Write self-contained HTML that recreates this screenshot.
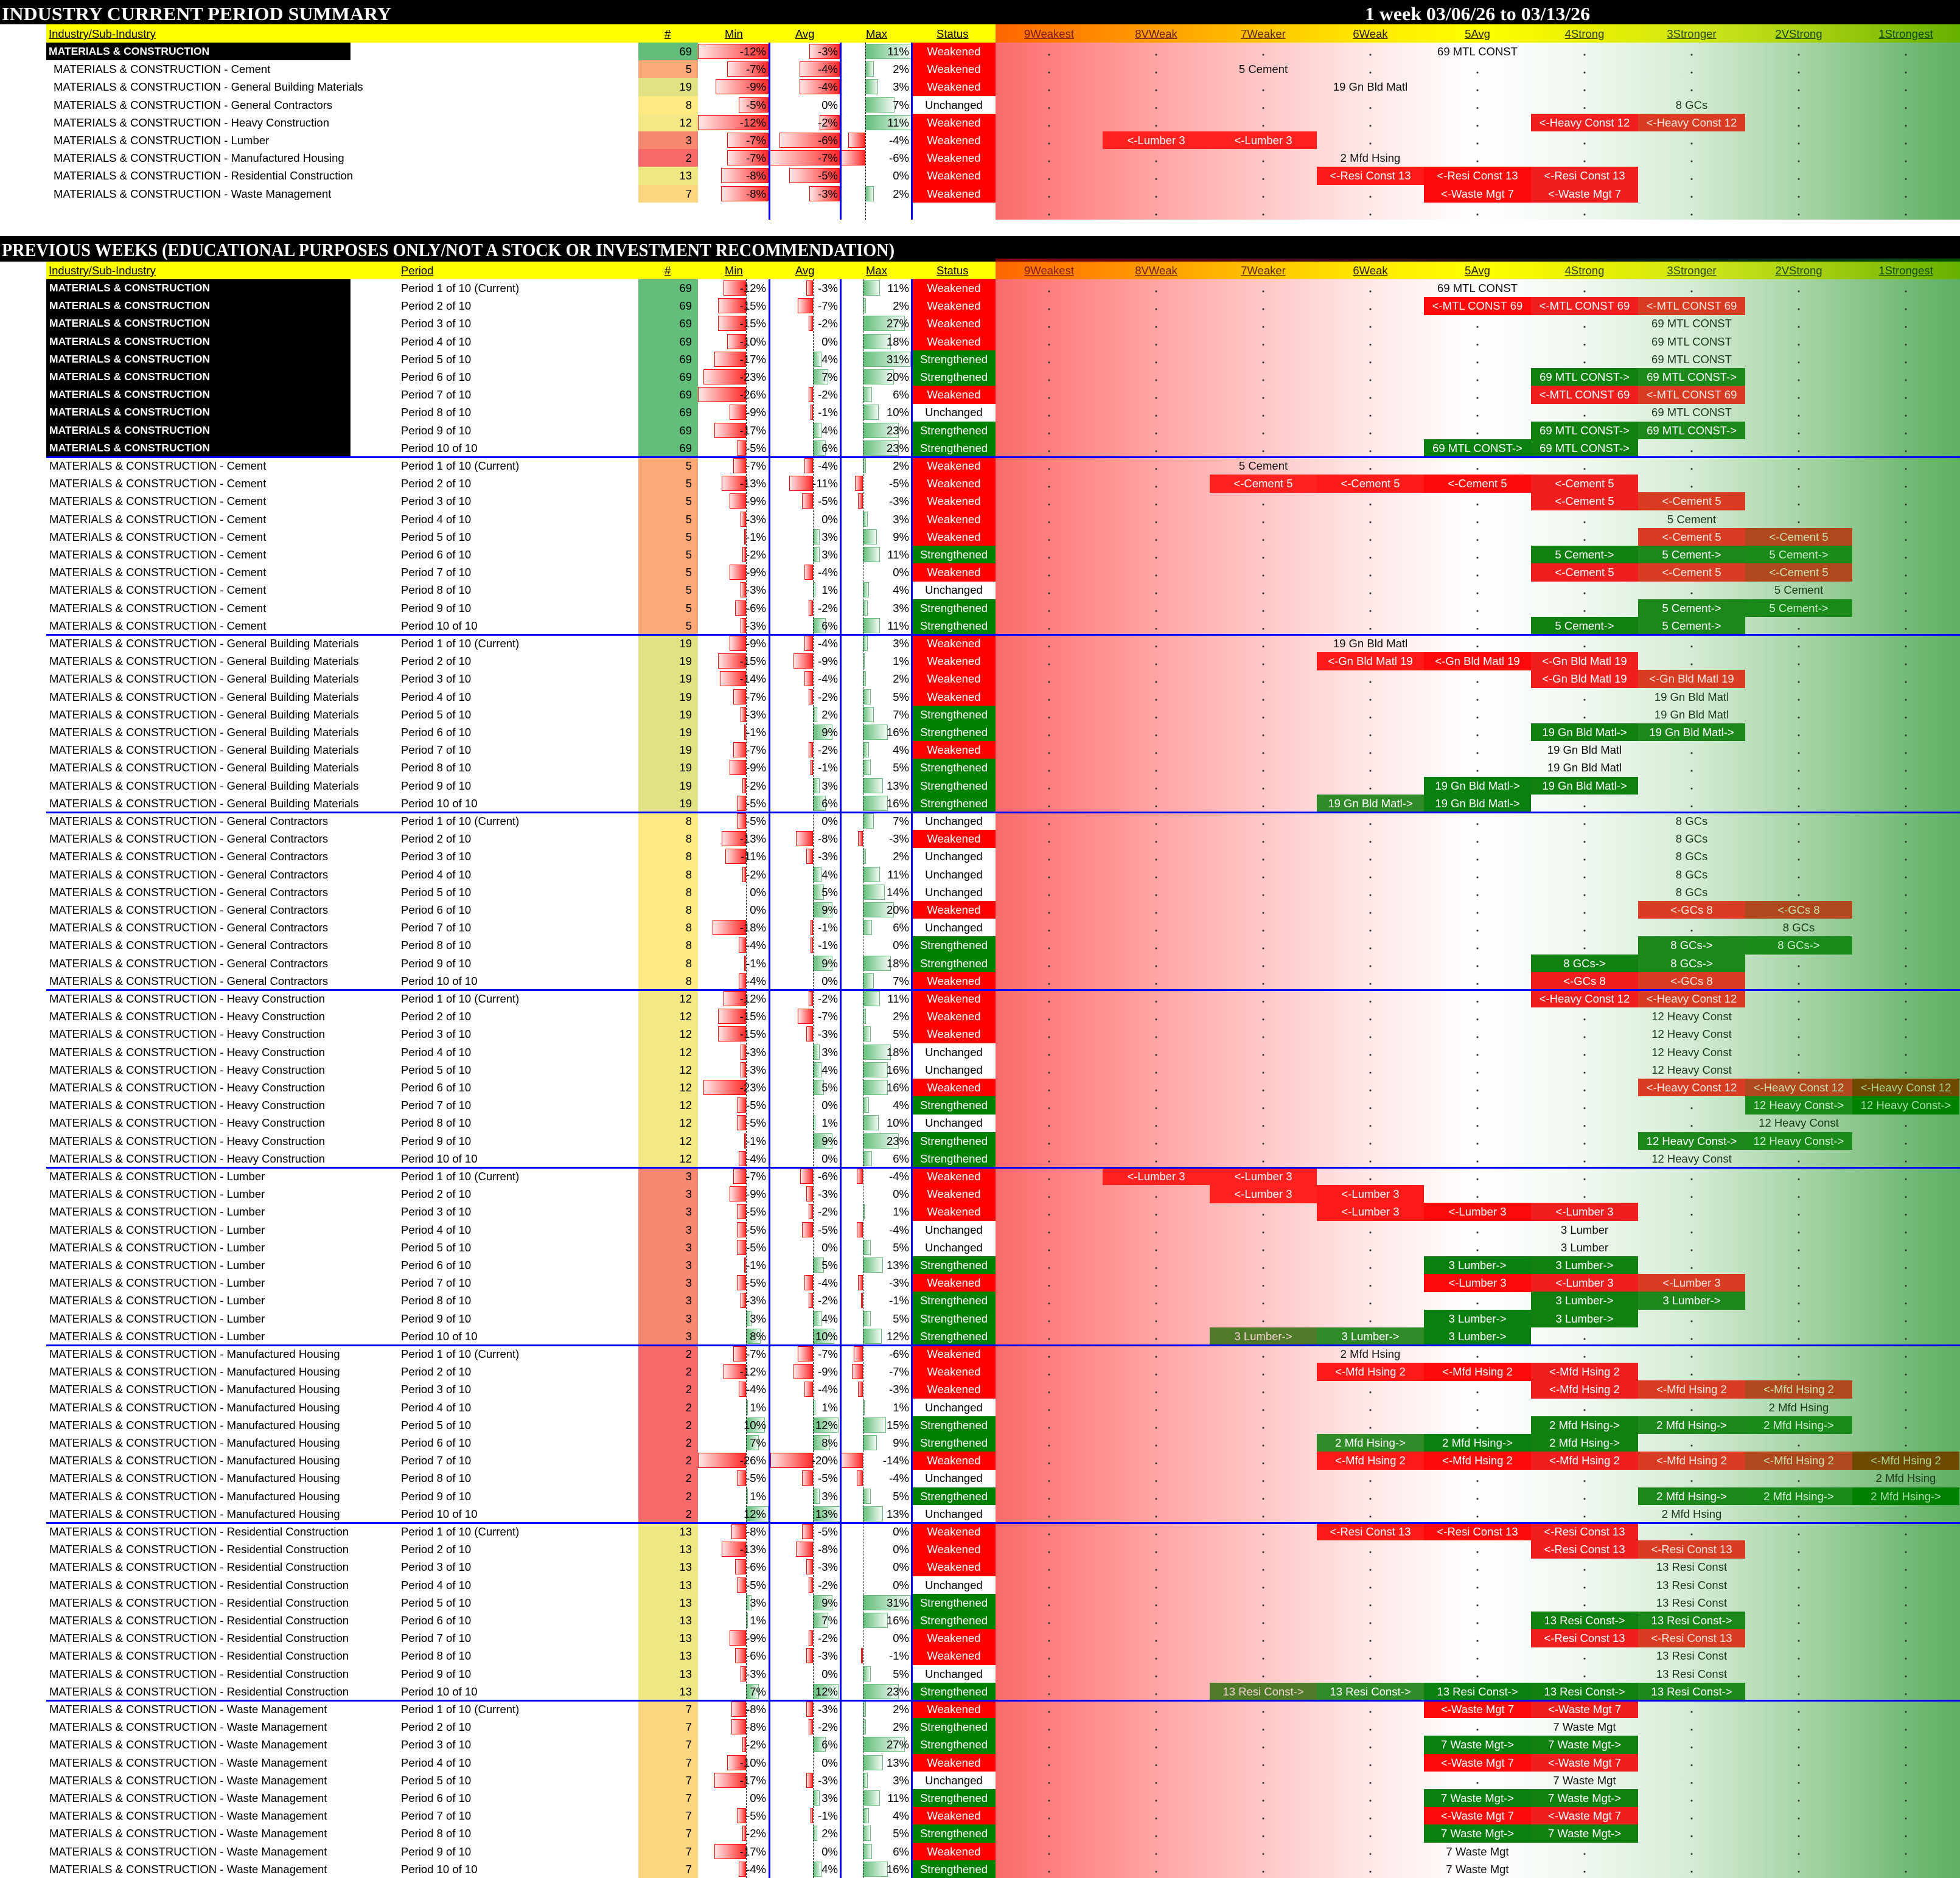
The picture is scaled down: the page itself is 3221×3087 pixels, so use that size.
<!DOCTYPE html>
<html><head><meta charset="utf-8">
<style>
*{margin:0;padding:0}
body{width:3221px;height:3087px;position:relative;overflow:hidden;background:#fff;font:18.5px/29px "Liberation Sans",Arial,sans-serif;color:#000}
b,s{position:absolute;font-weight:normal;text-decoration:none;white-space:nowrap;top:0;height:29.4px}
.r{position:absolute;left:0;width:3221px;height:29px}
.g{position:absolute;left:0;width:3221px;height:292px}
.g>.r:nth-child(2){top:29.2px}.g>.r:nth-child(3){top:58.4px}.g>.r:nth-child(4){top:87.6px}.g>.r:nth-child(5){top:116.8px}
.g>.r:nth-child(6){top:146px}.g>.r:nth-child(7){top:175.2px}.g>.r:nth-child(8){top:204.4px}.g>.r:nth-child(9){top:233.6px}.g>.r:nth-child(10){top:262.8px}
.nm{left:81px}.ns{left:88px}.pd{left:659px}
.wb{color:#fff;font-weight:bold !important;font-size:17.5px}
.n{left:1049px;width:88px;text-align:right;padding-right:10px}
.v1{left:1147px;width:112px;text-align:right}
.v2{left:1264px;width:113px;text-align:right}
.v3{left:1381px;width:113px;text-align:right}
.st{left:1499px;width:137px;text-align:center}
.W{background:#f00;color:#fff}.S{background:#008000;color:#fff}
s{top:2px;height:25px;box-sizing:border-box}
.N{border:1px solid #f00;background:linear-gradient(to right,#ffe6e6,#ff2a2a)}
.Y{border:1px solid #63be7b;background:linear-gradient(to right,#63be7b,#f4fbf6)}
.mn{right:1995px}.mp{left:1226px}.an{right:1885px}.ap{left:1336px}.xn{right:1803px}.xp{left:1418px}
.smn{right:1958px}.san{right:1841px}.sxn{right:1799px}.sxp{left:1422px}
.c69{background:#63be7b}.c5{background:#fbaa77}.c19{background:#e0e283}.c8{background:#ffeb84}.c12{background:#f3e884}.c3{background:#f98870}.c2{background:#f8696b}.c13{background:#efe784}.c7{background:#fdd680}
.h{width:176px;text-align:center}
.k0{left:1636px}.k1{left:1812px}.k2{left:1988px}.k3{left:2164px}.k4{left:2340px}.k5{left:2516px}.k6{left:2692px}.k7{left:2868px}.k8{left:3044px}
.P{color:#111}.P.k6,.P.k7,.P.k8{color:#1a3a1a}
.P::before{content:"";position:absolute;left:82px;top:16px;width:12px;height:8px;background:var(--c);z-index:-1}
.P{z-index:1}
.P.k2{--c:#ffc8c8}.P.k3{--c:#ffe8e8}.P.k4{--c:#fff}.P.k5{--c:#f0f8f0}.P.k6{--c:#d5ecd5}.P.k7{--c:#aad6aa}.P.k8{--c:#75bb78}
.R{color:#fff}
.R.k1,.R.k2{background:#ff2020}.R.k3{background:#ff1a1a}.R.k4{background:#ff0a0a}.R.k5{background:#f01e1e}.R.k6{background:#d83c22;color:#ffe8e0}.R.k7{background:#b0481e;color:#c8e0b0}.R.k8{background:#6e4a00;color:#a8d090}
.G{color:#fff}
.G.k2{background:#4e7a2a;color:#f4d0d0}.G.k3{background:#308a28}.G.k4{background:#0a8010}.G.k5{background:#108010}.G.k6{background:#1c881c}.G.k7{background:#1a8a1a;color:#d0f0d0}.G.k8{background:#008000;color:#a8dca8}
.hh{width:176px;text-align:center;text-decoration:underline !important}
.u{text-decoration:underline !important}
.heat{position:absolute;left:1636px;width:1585px;background:radial-gradient(circle at 88px 20px,#333 1.2px,transparent 1.9px) 0 0/176px 29.2px,linear-gradient(to right,#f86b6b 0%,#ff8080 6%,#ffa5a5 17%,#ffc8c8 28%,#ffe8e8 39%,#fff 50%,#f0f8f0 61%,#d5ecd5 72%,#aad6aa 83%,#75bb78 94%,#5fb064 100%)}
.hg{position:absolute;left:1636px;width:1585px;background:linear-gradient(to right,#ff6600 0%,#ffb000 22%,#ffe800 38%,#ffff00 50%,#e8f000 62%,#cce41a 74%,#a6d010 85%,#66b000 100%)}
.bl{position:absolute;background:#0000ff}
.dl{position:absolute;border-left:1px dashed #000;width:0}
</style></head><body>

<div style="position:absolute;left:0;top:0;width:3221px;height:40px;background:#000"></div>
<svg style="position:absolute;left:0;top:0" width="3221" height="40"><text x="3" y="33" textLength="640" lengthAdjust="spacingAndGlyphs" font-family="Liberation Serif, serif" font-weight="bold" font-size="31" fill="#fff">INDUSTRY CURRENT PERIOD SUMMARY</text><text x="2243" y="33" textLength="370" lengthAdjust="spacingAndGlyphs" font-family="Liberation Serif, serif" font-weight="bold" font-size="31" fill="#fff">1 week 03/06/26 to 03/13/26</text></svg>

<div style="position:absolute;left:0;top:388px;width:3221px;height:42px;background:#000"></div>
<div style="position:absolute;left:1636px;top:425px;width:1585px;height:5px;background:linear-gradient(to right,#7a0000,#3a1010 40%,#101010 55%,#0a300a 80%,#005000)"></div>
<svg style="position:absolute;left:0;top:388px" width="3221" height="42"><text x="3" y="33" textLength="1467" lengthAdjust="spacingAndGlyphs" font-family="Liberation Serif, serif" font-weight="bold" font-size="31" fill="#fff">PREVIOUS WEEKS (EDUCATIONAL PURPOSES ONLY/NOT A STOCK OR INVESTMENT RECOMMENDATION)</text></svg>

<div style="position:absolute;left:76px;top:40px;width:1560px;height:30px;background:#ff0"></div>
<div class="hg" style="top:40px;height:30px"></div>
<div style="position:absolute;left:76px;top:430px;width:1560px;height:29px;background:#ff0"></div>
<div class="hg" style="top:430px;height:29px"></div>

<div class="r" style="top:41px">
<b class="u" style="left:80px">Industry/Sub-Industry</b>
<b class="u" style="left:1092px">#</b><b class="u" style="left:1191px">Min</b><b class="u" style="left:1307px">Avg</b><b class="u" style="left:1423px">Max</b><b class="u" style="left:1539px">Status</b>
<b class="hh k0" style="color:#7a1c1c">9Weakest</b><b class="hh k1" style="color:#6a2020">8VWeak</b><b class="hh k2" style="color:#5a2a10">7Weaker</b><b class="hh k3" style="color:#2a1a10">6Weak</b><b class="hh k4" style="color:#202000">5Avg</b><b class="hh k5" style="color:#2a3a10">4Strong</b><b class="hh k6" style="color:#2a4a10">3Stronger</b><b class="hh k7" style="color:#1a4a1a">2VStrong</b><b class="hh k8" style="color:#0a4a0a">1Strongest</b>
</div>
<div class="r" style="top:430px">
<b class="u" style="left:80px">Industry/Sub-Industry</b><b class="u" style="left:659px">Period</b>
<b class="u" style="left:1092px">#</b><b class="u" style="left:1191px">Min</b><b class="u" style="left:1307px">Avg</b><b class="u" style="left:1423px">Max</b><b class="u" style="left:1539px">Status</b>
<b class="hh k0" style="color:#7a1c1c">9Weakest</b><b class="hh k1" style="color:#6a2020">8VWeak</b><b class="hh k2" style="color:#5a2a10">7Weaker</b><b class="hh k3" style="color:#2a1a10">6Weak</b><b class="hh k4" style="color:#202000">5Avg</b><b class="hh k5" style="color:#2a3a10">4Strong</b><b class="hh k6" style="color:#2a4a10">3Stronger</b><b class="hh k7" style="color:#1a4a1a">2VStrong</b><b class="hh k8" style="color:#0a4a0a">1Strongest</b>
</div>

<div class="heat" style="top:70px;height:291px"></div>
<div class="heat" style="top:459px;height:2628px"></div>

<div style="position:absolute;left:76px;top:70px;width:500px;height:29px;background:#000"></div>
<div class="r" style="top:70px"><b class="nm wb" style="left:80px">MATERIALS &amp; CONSTRUCTION</b><b class="n c69">69</b>
<s class="N smn" style="width:116px"></s><s class="N san" style="width:50px"></s><s class="Y sxp" style="width:76px"></s>
<b class="v1">-12%</b><b class="v2">-3%</b><b class="v3">11%</b><b class="st W">Weakened</b><b class="h k4 P">69 MTL CONST</b></div>
<div class="r" style="top:99.2px"><b class="ns">MATERIALS &amp; CONSTRUCTION - Cement</b><b class="n c5">5</b>
<s class="N smn" style="width:68px"></s><s class="N san" style="width:66px"></s><s class="Y sxp" style="width:14px"></s>
<b class="v1">-7%</b><b class="v2">-4%</b><b class="v3">2%</b><b class="st W">Weakened</b><b class="h k2 P">5 Cement</b></div>
<div class="r" style="top:128.4px"><b class="ns">MATERIALS &amp; CONSTRUCTION - General Building Materials</b><b class="n c19">19</b>
<s class="N smn" style="width:87px"></s><s class="N san" style="width:66px"></s><s class="Y sxp" style="width:21px"></s>
<b class="v1">-9%</b><b class="v2">-4%</b><b class="v3">3%</b><b class="st W">Weakened</b><b class="h k3 P">19 Gn Bld Matl</b></div>
<div class="r" style="top:157.6px"><b class="ns">MATERIALS &amp; CONSTRUCTION - General Contractors</b><b class="n c8">8</b>
<s class="N smn" style="width:49px"></s><s class="Y sxp" style="width:48px"></s>
<b class="v1">-5%</b><b class="v2">0%</b><b class="v3">7%</b><b class="st">Unchanged</b><b class="h k6 P">8 GCs</b></div>
<div class="r" style="top:186.8px"><b class="ns">MATERIALS &amp; CONSTRUCTION - Heavy Construction</b><b class="n c12">12</b>
<s class="N smn" style="width:116px"></s><s class="N san" style="width:33px"></s><s class="Y sxp" style="width:76px"></s>
<b class="v1">-12%</b><b class="v2">-2%</b><b class="v3">11%</b><b class="st W">Weakened</b><b class="h k5 R">&lt;-Heavy Const 12</b><b class="h k6 R">&lt;-Heavy Const 12</b></div>
<div class="r" style="top:216px"><b class="ns">MATERIALS &amp; CONSTRUCTION - Lumber</b><b class="n c3">3</b>
<s class="N smn" style="width:68px"></s><s class="N san" style="width:99px"></s><s class="N sxn" style="width:28px"></s>
<b class="v1">-7%</b><b class="v2">-6%</b><b class="v3">-4%</b><b class="st W">Weakened</b><b class="h k1 R">&lt;-Lumber 3</b><b class="h k2 R">&lt;-Lumber 3</b></div>
<div class="r" style="top:245.2px"><b class="ns">MATERIALS &amp; CONSTRUCTION - Manufactured Housing</b><b class="n c2">2</b>
<s class="N smn" style="width:68px"></s><s class="N san" style="width:115px"></s><s class="N sxn" style="width:41px"></s>
<b class="v1">-7%</b><b class="v2">-7%</b><b class="v3">-6%</b><b class="st W">Weakened</b><b class="h k3 P">2 Mfd Hsing</b></div>
<div class="r" style="top:274.4px"><b class="ns">MATERIALS &amp; CONSTRUCTION - Residential Construction</b><b class="n c13">13</b>
<s class="N smn" style="width:78px"></s><s class="N san" style="width:83px"></s>
<b class="v1">-8%</b><b class="v2">-5%</b><b class="v3">0%</b><b class="st W">Weakened</b><b class="h k3 R">&lt;-Resi Const 13</b><b class="h k4 R">&lt;-Resi Const 13</b><b class="h k5 R">&lt;-Resi Const 13</b></div>
<div class="r" style="top:303.6px"><b class="ns">MATERIALS &amp; CONSTRUCTION - Waste Management</b><b class="n c7">7</b>
<s class="N smn" style="width:78px"></s><s class="N san" style="width:50px"></s><s class="Y sxp" style="width:14px"></s>
<b class="v1">-8%</b><b class="v2">-3%</b><b class="v3">2%</b><b class="st W">Weakened</b><b class="h k4 R">&lt;-Waste Mgt 7</b><b class="h k5 R">&lt;-Waste Mgt 7</b></div>

<div class="bl" style="left:1263px;top:70px;width:3px;height:291px"></div>
<div class="bl" style="left:1380px;top:70px;width:3px;height:291px"></div>
<div class="bl" style="left:1497px;top:70px;width:3px;height:291px"></div>
<div class="dl" style="left:1422px;top:70px;height:291px"></div>

<div style="position:absolute;left:76px;top:459px;width:500px;height:292px;background:#000"></div>

<div class="g" style="top:459px">
<div class="r"><b class="nm wb">MATERIALS &amp; CONSTRUCTION</b><b class="pd">Period 1 of 10 (Current)</b><b class="n c69">69</b><s class="N mn" style="width:37px"></s><s class="N an" style="width:11px"></s><s class="Y xp" style="width:28px"></s><b class="v1">-12%</b><b class="v2">-3%</b><b class="v3">11%</b><b class="st W">Weakened</b><b class="h k4 P">69 MTL CONST</b></div>
<div class="r"><b class="nm wb">MATERIALS &amp; CONSTRUCTION</b><b class="pd">Period 2 of 10</b><b class="n c69">69</b><s class="N mn" style="width:46px"></s><s class="N an" style="width:25px"></s><s class="Y xp" style="width:5px"></s><b class="v1">-15%</b><b class="v2">-7%</b><b class="v3">2%</b><b class="st W">Weakened</b><b class="h k4 R">&lt;-MTL CONST 69</b><b class="h k5 R">&lt;-MTL CONST 69</b><b class="h k6 R">&lt;-MTL CONST 69</b></div>
<div class="r"><b class="nm wb">MATERIALS &amp; CONSTRUCTION</b><b class="pd">Period 3 of 10</b><b class="n c69">69</b><s class="N mn" style="width:46px"></s><s class="N an" style="width:7px"></s><s class="Y xp" style="width:69px"></s><b class="v1">-15%</b><b class="v2">-2%</b><b class="v3">27%</b><b class="st W">Weakened</b><b class="h k6 P">69 MTL CONST</b></div>
<div class="r"><b class="nm wb">MATERIALS &amp; CONSTRUCTION</b><b class="pd">Period 4 of 10</b><b class="n c69">69</b><s class="N mn" style="width:31px"></s><s class="Y xp" style="width:46px"></s><b class="v1">-10%</b><b class="v2">0%</b><b class="v3">18%</b><b class="st W">Weakened</b><b class="h k6 P">69 MTL CONST</b></div>
<div class="r"><b class="nm wb">MATERIALS &amp; CONSTRUCTION</b><b class="pd">Period 5 of 10</b><b class="n c69">69</b><s class="N mn" style="width:52px"></s><s class="Y ap" style="width:14px"></s><s class="Y xp" style="width:79px"></s><b class="v1">-17%</b><b class="v2">4%</b><b class="v3">31%</b><b class="st S">Strengthened</b><b class="h k6 P">69 MTL CONST</b></div>
<div class="r"><b class="nm wb">MATERIALS &amp; CONSTRUCTION</b><b class="pd">Period 6 of 10</b><b class="n c69">69</b><s class="N mn" style="width:70px"></s><s class="Y ap" style="width:25px"></s><s class="Y xp" style="width:51px"></s><b class="v1">-23%</b><b class="v2">7%</b><b class="v3">20%</b><b class="st S">Strengthened</b><b class="h k5 G">69 MTL CONST-&gt;</b><b class="h k6 G">69 MTL CONST-&gt;</b></div>
<div class="r"><b class="nm wb">MATERIALS &amp; CONSTRUCTION</b><b class="pd">Period 7 of 10</b><b class="n c69">69</b><s class="N mn" style="width:79px"></s><s class="N an" style="width:7px"></s><s class="Y xp" style="width:15px"></s><b class="v1">-26%</b><b class="v2">-2%</b><b class="v3">6%</b><b class="st W">Weakened</b><b class="h k5 R">&lt;-MTL CONST 69</b><b class="h k6 R">&lt;-MTL CONST 69</b></div>
<div class="r"><b class="nm wb">MATERIALS &amp; CONSTRUCTION</b><b class="pd">Period 8 of 10</b><b class="n c69">69</b><s class="N mn" style="width:27px"></s><s class="N an" style="width:4px"></s><s class="Y xp" style="width:26px"></s><b class="v1">-9%</b><b class="v2">-1%</b><b class="v3">10%</b><b class="st">Unchanged</b><b class="h k6 P">69 MTL CONST</b></div>
<div class="r"><b class="nm wb">MATERIALS &amp; CONSTRUCTION</b><b class="pd">Period 9 of 10</b><b class="n c69">69</b><s class="N mn" style="width:52px"></s><s class="Y ap" style="width:14px"></s><s class="Y xp" style="width:59px"></s><b class="v1">-17%</b><b class="v2">4%</b><b class="v3">23%</b><b class="st S">Strengthened</b><b class="h k5 G">69 MTL CONST-&gt;</b><b class="h k6 G">69 MTL CONST-&gt;</b></div>
<div class="r"><b class="nm wb">MATERIALS &amp; CONSTRUCTION</b><b class="pd">Period 10 of 10</b><b class="n c69">69</b><s class="N mn" style="width:15px"></s><s class="Y ap" style="width:21px"></s><s class="Y xp" style="width:59px"></s><b class="v1">-5%</b><b class="v2">6%</b><b class="v3">23%</b><b class="st S">Strengthened</b><b class="h k4 G">69 MTL CONST-&gt;</b><b class="h k5 G">69 MTL CONST-&gt;</b></div>
</div>

<div class="g" style="top:751px">
<div class="r"><b class="nm">MATERIALS &amp; CONSTRUCTION - Cement</b><b class="pd">Period 1 of 10 (Current)</b><b class="n c5">5</b><s class="N mn" style="width:21px"></s><s class="N an" style="width:14px"></s><s class="Y xp" style="width:5px"></s><b class="v1">-7%</b><b class="v2">-4%</b><b class="v3">2%</b><b class="st W">Weakened</b><b class="h k2 P">5 Cement</b></div>
<div class="r"><b class="nm">MATERIALS &amp; CONSTRUCTION - Cement</b><b class="pd">Period 2 of 10</b><b class="n c5">5</b><s class="N mn" style="width:40px"></s><s class="N an" style="width:39px"></s><s class="N xn" style="width:13px"></s><b class="v1">-13%</b><b class="v2">-11%</b><b class="v3">-5%</b><b class="st W">Weakened</b><b class="h k2 R">&lt;-Cement 5</b><b class="h k3 R">&lt;-Cement 5</b><b class="h k4 R">&lt;-Cement 5</b><b class="h k5 R">&lt;-Cement 5</b></div>
<div class="r"><b class="nm">MATERIALS &amp; CONSTRUCTION - Cement</b><b class="pd">Period 3 of 10</b><b class="n c5">5</b><s class="N mn" style="width:27px"></s><s class="N an" style="width:18px"></s><s class="N xn" style="width:8px"></s><b class="v1">-9%</b><b class="v2">-5%</b><b class="v3">-3%</b><b class="st W">Weakened</b><b class="h k5 R">&lt;-Cement 5</b><b class="h k6 R">&lt;-Cement 5</b></div>
<div class="r"><b class="nm">MATERIALS &amp; CONSTRUCTION - Cement</b><b class="pd">Period 4 of 10</b><b class="n c5">5</b><s class="N mn" style="width:9px"></s><s class="Y xp" style="width:8px"></s><b class="v1">-3%</b><b class="v2">0%</b><b class="v3">3%</b><b class="st W">Weakened</b><b class="h k6 P">5 Cement</b></div>
<div class="r"><b class="nm">MATERIALS &amp; CONSTRUCTION - Cement</b><b class="pd">Period 5 of 10</b><b class="n c5">5</b><s class="N mn" style="width:3px"></s><s class="Y ap" style="width:11px"></s><s class="Y xp" style="width:23px"></s><b class="v1">-1%</b><b class="v2">3%</b><b class="v3">9%</b><b class="st W">Weakened</b><b class="h k6 R">&lt;-Cement 5</b><b class="h k7 R">&lt;-Cement 5</b></div>
<div class="r"><b class="nm">MATERIALS &amp; CONSTRUCTION - Cement</b><b class="pd">Period 6 of 10</b><b class="n c5">5</b><s class="N mn" style="width:6px"></s><s class="Y ap" style="width:11px"></s><s class="Y xp" style="width:28px"></s><b class="v1">-2%</b><b class="v2">3%</b><b class="v3">11%</b><b class="st S">Strengthened</b><b class="h k5 G">5 Cement-&gt;</b><b class="h k6 G">5 Cement-&gt;</b><b class="h k7 G">5 Cement-&gt;</b></div>
<div class="r"><b class="nm">MATERIALS &amp; CONSTRUCTION - Cement</b><b class="pd">Period 7 of 10</b><b class="n c5">5</b><s class="N mn" style="width:27px"></s><s class="N an" style="width:14px"></s><b class="v1">-9%</b><b class="v2">-4%</b><b class="v3">0%</b><b class="st W">Weakened</b><b class="h k5 R">&lt;-Cement 5</b><b class="h k6 R">&lt;-Cement 5</b><b class="h k7 R">&lt;-Cement 5</b></div>
<div class="r"><b class="nm">MATERIALS &amp; CONSTRUCTION - Cement</b><b class="pd">Period 8 of 10</b><b class="n c5">5</b><s class="N mn" style="width:9px"></s><s class="Y ap" style="width:4px"></s><s class="Y xp" style="width:10px"></s><b class="v1">-3%</b><b class="v2">1%</b><b class="v3">4%</b><b class="st">Unchanged</b><b class="h k7 P">5 Cement</b></div>
<div class="r"><b class="nm">MATERIALS &amp; CONSTRUCTION - Cement</b><b class="pd">Period 9 of 10</b><b class="n c5">5</b><s class="N mn" style="width:18px"></s><s class="N an" style="width:7px"></s><s class="Y xp" style="width:8px"></s><b class="v1">-6%</b><b class="v2">-2%</b><b class="v3">3%</b><b class="st S">Strengthened</b><b class="h k6 G">5 Cement-&gt;</b><b class="h k7 G">5 Cement-&gt;</b></div>
<div class="r"><b class="nm">MATERIALS &amp; CONSTRUCTION - Cement</b><b class="pd">Period 10 of 10</b><b class="n c5">5</b><s class="N mn" style="width:9px"></s><s class="Y ap" style="width:21px"></s><s class="Y xp" style="width:28px"></s><b class="v1">-3%</b><b class="v2">6%</b><b class="v3">11%</b><b class="st S">Strengthened</b><b class="h k5 G">5 Cement-&gt;</b><b class="h k6 G">5 Cement-&gt;</b></div>
</div>

<div class="g" style="top:1043px">
<div class="r"><b class="nm">MATERIALS &amp; CONSTRUCTION - General Building Materials</b><b class="pd">Period 1 of 10 (Current)</b><b class="n c19">19</b><s class="N mn" style="width:27px"></s><s class="N an" style="width:14px"></s><s class="Y xp" style="width:8px"></s><b class="v1">-9%</b><b class="v2">-4%</b><b class="v3">3%</b><b class="st W">Weakened</b><b class="h k3 P">19 Gn Bld Matl</b></div>
<div class="r"><b class="nm">MATERIALS &amp; CONSTRUCTION - General Building Materials</b><b class="pd">Period 2 of 10</b><b class="n c19">19</b><s class="N mn" style="width:46px"></s><s class="N an" style="width:32px"></s><s class="Y xp" style="width:3px"></s><b class="v1">-15%</b><b class="v2">-9%</b><b class="v3">1%</b><b class="st W">Weakened</b><b class="h k3 R">&lt;-Gn Bld Matl 19</b><b class="h k4 R">&lt;-Gn Bld Matl 19</b><b class="h k5 R">&lt;-Gn Bld Matl 19</b></div>
<div class="r"><b class="nm">MATERIALS &amp; CONSTRUCTION - General Building Materials</b><b class="pd">Period 3 of 10</b><b class="n c19">19</b><s class="N mn" style="width:43px"></s><s class="N an" style="width:14px"></s><s class="Y xp" style="width:5px"></s><b class="v1">-14%</b><b class="v2">-4%</b><b class="v3">2%</b><b class="st W">Weakened</b><b class="h k5 R">&lt;-Gn Bld Matl 19</b><b class="h k6 R">&lt;-Gn Bld Matl 19</b></div>
<div class="r"><b class="nm">MATERIALS &amp; CONSTRUCTION - General Building Materials</b><b class="pd">Period 4 of 10</b><b class="n c19">19</b><s class="N mn" style="width:21px"></s><s class="N an" style="width:7px"></s><s class="Y xp" style="width:13px"></s><b class="v1">-7%</b><b class="v2">-2%</b><b class="v3">5%</b><b class="st W">Weakened</b><b class="h k6 P">19 Gn Bld Matl</b></div>
<div class="r"><b class="nm">MATERIALS &amp; CONSTRUCTION - General Building Materials</b><b class="pd">Period 5 of 10</b><b class="n c19">19</b><s class="N mn" style="width:9px"></s><s class="Y ap" style="width:7px"></s><s class="Y xp" style="width:18px"></s><b class="v1">-3%</b><b class="v2">2%</b><b class="v3">7%</b><b class="st S">Strengthened</b><b class="h k6 P">19 Gn Bld Matl</b></div>
<div class="r"><b class="nm">MATERIALS &amp; CONSTRUCTION - General Building Materials</b><b class="pd">Period 6 of 10</b><b class="n c19">19</b><s class="N mn" style="width:3px"></s><s class="Y ap" style="width:32px"></s><s class="Y xp" style="width:41px"></s><b class="v1">-1%</b><b class="v2">9%</b><b class="v3">16%</b><b class="st S">Strengthened</b><b class="h k5 G">19 Gn Bld Matl-&gt;</b><b class="h k6 G">19 Gn Bld Matl-&gt;</b></div>
<div class="r"><b class="nm">MATERIALS &amp; CONSTRUCTION - General Building Materials</b><b class="pd">Period 7 of 10</b><b class="n c19">19</b><s class="N mn" style="width:21px"></s><s class="N an" style="width:7px"></s><s class="Y xp" style="width:10px"></s><b class="v1">-7%</b><b class="v2">-2%</b><b class="v3">4%</b><b class="st W">Weakened</b><b class="h k5 P">19 Gn Bld Matl</b></div>
<div class="r"><b class="nm">MATERIALS &amp; CONSTRUCTION - General Building Materials</b><b class="pd">Period 8 of 10</b><b class="n c19">19</b><s class="N mn" style="width:27px"></s><s class="N an" style="width:4px"></s><s class="Y xp" style="width:13px"></s><b class="v1">-9%</b><b class="v2">-1%</b><b class="v3">5%</b><b class="st S">Strengthened</b><b class="h k5 P">19 Gn Bld Matl</b></div>
<div class="r"><b class="nm">MATERIALS &amp; CONSTRUCTION - General Building Materials</b><b class="pd">Period 9 of 10</b><b class="n c19">19</b><s class="N mn" style="width:6px"></s><s class="Y ap" style="width:11px"></s><s class="Y xp" style="width:33px"></s><b class="v1">-2%</b><b class="v2">3%</b><b class="v3">13%</b><b class="st S">Strengthened</b><b class="h k4 G">19 Gn Bld Matl-&gt;</b><b class="h k5 G">19 Gn Bld Matl-&gt;</b></div>
<div class="r"><b class="nm">MATERIALS &amp; CONSTRUCTION - General Building Materials</b><b class="pd">Period 10 of 10</b><b class="n c19">19</b><s class="N mn" style="width:15px"></s><s class="Y ap" style="width:21px"></s><s class="Y xp" style="width:41px"></s><b class="v1">-5%</b><b class="v2">6%</b><b class="v3">16%</b><b class="st S">Strengthened</b><b class="h k3 G">19 Gn Bld Matl-&gt;</b><b class="h k4 G">19 Gn Bld Matl-&gt;</b></div>
</div>

<div class="g" style="top:1335px">
<div class="r"><b class="nm">MATERIALS &amp; CONSTRUCTION - General Contractors</b><b class="pd">Period 1 of 10 (Current)</b><b class="n c8">8</b><s class="N mn" style="width:15px"></s><s class="Y xp" style="width:18px"></s><b class="v1">-5%</b><b class="v2">0%</b><b class="v3">7%</b><b class="st">Unchanged</b><b class="h k6 P">8 GCs</b></div>
<div class="r"><b class="nm">MATERIALS &amp; CONSTRUCTION - General Contractors</b><b class="pd">Period 2 of 10</b><b class="n c8">8</b><s class="N mn" style="width:40px"></s><s class="N an" style="width:28px"></s><s class="N xn" style="width:8px"></s><b class="v1">-13%</b><b class="v2">-8%</b><b class="v3">-3%</b><b class="st W">Weakened</b><b class="h k6 P">8 GCs</b></div>
<div class="r"><b class="nm">MATERIALS &amp; CONSTRUCTION - General Contractors</b><b class="pd">Period 3 of 10</b><b class="n c8">8</b><s class="N mn" style="width:34px"></s><s class="N an" style="width:11px"></s><s class="Y xp" style="width:5px"></s><b class="v1">-11%</b><b class="v2">-3%</b><b class="v3">2%</b><b class="st">Unchanged</b><b class="h k6 P">8 GCs</b></div>
<div class="r"><b class="nm">MATERIALS &amp; CONSTRUCTION - General Contractors</b><b class="pd">Period 4 of 10</b><b class="n c8">8</b><s class="N mn" style="width:6px"></s><s class="Y ap" style="width:14px"></s><s class="Y xp" style="width:28px"></s><b class="v1">-2%</b><b class="v2">4%</b><b class="v3">11%</b><b class="st">Unchanged</b><b class="h k6 P">8 GCs</b></div>
<div class="r"><b class="nm">MATERIALS &amp; CONSTRUCTION - General Contractors</b><b class="pd">Period 5 of 10</b><b class="n c8">8</b><s class="Y ap" style="width:18px"></s><s class="Y xp" style="width:36px"></s><b class="v1">0%</b><b class="v2">5%</b><b class="v3">14%</b><b class="st">Unchanged</b><b class="h k6 P">8 GCs</b></div>
<div class="r"><b class="nm">MATERIALS &amp; CONSTRUCTION - General Contractors</b><b class="pd">Period 6 of 10</b><b class="n c8">8</b><s class="Y ap" style="width:32px"></s><s class="Y xp" style="width:51px"></s><b class="v1">0%</b><b class="v2">9%</b><b class="v3">20%</b><b class="st W">Weakened</b><b class="h k6 R">&lt;-GCs 8</b><b class="h k7 R">&lt;-GCs 8</b></div>
<div class="r"><b class="nm">MATERIALS &amp; CONSTRUCTION - General Contractors</b><b class="pd">Period 7 of 10</b><b class="n c8">8</b><s class="N mn" style="width:55px"></s><s class="N an" style="width:4px"></s><s class="Y xp" style="width:15px"></s><b class="v1">-18%</b><b class="v2">-1%</b><b class="v3">6%</b><b class="st">Unchanged</b><b class="h k7 P">8 GCs</b></div>
<div class="r"><b class="nm">MATERIALS &amp; CONSTRUCTION - General Contractors</b><b class="pd">Period 8 of 10</b><b class="n c8">8</b><s class="N mn" style="width:12px"></s><s class="N an" style="width:4px"></s><b class="v1">-4%</b><b class="v2">-1%</b><b class="v3">0%</b><b class="st S">Strengthened</b><b class="h k6 G">8 GCs-&gt;</b><b class="h k7 G">8 GCs-&gt;</b></div>
<div class="r"><b class="nm">MATERIALS &amp; CONSTRUCTION - General Contractors</b><b class="pd">Period 9 of 10</b><b class="n c8">8</b><s class="N mn" style="width:3px"></s><s class="Y ap" style="width:32px"></s><s class="Y xp" style="width:46px"></s><b class="v1">-1%</b><b class="v2">9%</b><b class="v3">18%</b><b class="st S">Strengthened</b><b class="h k5 G">8 GCs-&gt;</b><b class="h k6 G">8 GCs-&gt;</b></div>
<div class="r"><b class="nm">MATERIALS &amp; CONSTRUCTION - General Contractors</b><b class="pd">Period 10 of 10</b><b class="n c8">8</b><s class="N mn" style="width:12px"></s><s class="Y xp" style="width:18px"></s><b class="v1">-4%</b><b class="v2">0%</b><b class="v3">7%</b><b class="st W">Weakened</b><b class="h k5 R">&lt;-GCs 8</b><b class="h k6 R">&lt;-GCs 8</b></div>
</div>

<div class="g" style="top:1627px">
<div class="r"><b class="nm">MATERIALS &amp; CONSTRUCTION - Heavy Construction</b><b class="pd">Period 1 of 10 (Current)</b><b class="n c12">12</b><s class="N mn" style="width:37px"></s><s class="N an" style="width:7px"></s><s class="Y xp" style="width:28px"></s><b class="v1">-12%</b><b class="v2">-2%</b><b class="v3">11%</b><b class="st W">Weakened</b><b class="h k5 R">&lt;-Heavy Const 12</b><b class="h k6 R">&lt;-Heavy Const 12</b></div>
<div class="r"><b class="nm">MATERIALS &amp; CONSTRUCTION - Heavy Construction</b><b class="pd">Period 2 of 10</b><b class="n c12">12</b><s class="N mn" style="width:46px"></s><s class="N an" style="width:25px"></s><s class="Y xp" style="width:5px"></s><b class="v1">-15%</b><b class="v2">-7%</b><b class="v3">2%</b><b class="st W">Weakened</b><b class="h k6 P">12 Heavy Const</b></div>
<div class="r"><b class="nm">MATERIALS &amp; CONSTRUCTION - Heavy Construction</b><b class="pd">Period 3 of 10</b><b class="n c12">12</b><s class="N mn" style="width:46px"></s><s class="N an" style="width:11px"></s><s class="Y xp" style="width:13px"></s><b class="v1">-15%</b><b class="v2">-3%</b><b class="v3">5%</b><b class="st W">Weakened</b><b class="h k6 P">12 Heavy Const</b></div>
<div class="r"><b class="nm">MATERIALS &amp; CONSTRUCTION - Heavy Construction</b><b class="pd">Period 4 of 10</b><b class="n c12">12</b><s class="N mn" style="width:9px"></s><s class="Y ap" style="width:11px"></s><s class="Y xp" style="width:46px"></s><b class="v1">-3%</b><b class="v2">3%</b><b class="v3">18%</b><b class="st">Unchanged</b><b class="h k6 P">12 Heavy Const</b></div>
<div class="r"><b class="nm">MATERIALS &amp; CONSTRUCTION - Heavy Construction</b><b class="pd">Period 5 of 10</b><b class="n c12">12</b><s class="N mn" style="width:9px"></s><s class="Y ap" style="width:14px"></s><s class="Y xp" style="width:41px"></s><b class="v1">-3%</b><b class="v2">4%</b><b class="v3">16%</b><b class="st">Unchanged</b><b class="h k6 P">12 Heavy Const</b></div>
<div class="r"><b class="nm">MATERIALS &amp; CONSTRUCTION - Heavy Construction</b><b class="pd">Period 6 of 10</b><b class="n c12">12</b><s class="N mn" style="width:70px"></s><s class="Y ap" style="width:18px"></s><s class="Y xp" style="width:41px"></s><b class="v1">-23%</b><b class="v2">5%</b><b class="v3">16%</b><b class="st W">Weakened</b><b class="h k6 R">&lt;-Heavy Const 12</b><b class="h k7 R">&lt;-Heavy Const 12</b><b class="h k8 R">&lt;-Heavy Const 12</b></div>
<div class="r"><b class="nm">MATERIALS &amp; CONSTRUCTION - Heavy Construction</b><b class="pd">Period 7 of 10</b><b class="n c12">12</b><s class="N mn" style="width:15px"></s><s class="Y xp" style="width:10px"></s><b class="v1">-5%</b><b class="v2">0%</b><b class="v3">4%</b><b class="st S">Strengthened</b><b class="h k7 G">12 Heavy Const-&gt;</b><b class="h k8 G">12 Heavy Const-&gt;</b></div>
<div class="r"><b class="nm">MATERIALS &amp; CONSTRUCTION - Heavy Construction</b><b class="pd">Period 8 of 10</b><b class="n c12">12</b><s class="N mn" style="width:15px"></s><s class="Y ap" style="width:4px"></s><s class="Y xp" style="width:26px"></s><b class="v1">-5%</b><b class="v2">1%</b><b class="v3">10%</b><b class="st">Unchanged</b><b class="h k7 P">12 Heavy Const</b></div>
<div class="r"><b class="nm">MATERIALS &amp; CONSTRUCTION - Heavy Construction</b><b class="pd">Period 9 of 10</b><b class="n c12">12</b><s class="N mn" style="width:3px"></s><s class="Y ap" style="width:32px"></s><s class="Y xp" style="width:59px"></s><b class="v1">-1%</b><b class="v2">9%</b><b class="v3">23%</b><b class="st S">Strengthened</b><b class="h k6 G">12 Heavy Const-&gt;</b><b class="h k7 G">12 Heavy Const-&gt;</b></div>
<div class="r"><b class="nm">MATERIALS &amp; CONSTRUCTION - Heavy Construction</b><b class="pd">Period 10 of 10</b><b class="n c12">12</b><s class="N mn" style="width:12px"></s><s class="Y xp" style="width:15px"></s><b class="v1">-4%</b><b class="v2">0%</b><b class="v3">6%</b><b class="st S">Strengthened</b><b class="h k6 P">12 Heavy Const</b></div>
</div>

<div class="g" style="top:1919px">
<div class="r"><b class="nm">MATERIALS &amp; CONSTRUCTION - Lumber</b><b class="pd">Period 1 of 10 (Current)</b><b class="n c3">3</b><s class="N mn" style="width:21px"></s><s class="N an" style="width:21px"></s><s class="N xn" style="width:10px"></s><b class="v1">-7%</b><b class="v2">-6%</b><b class="v3">-4%</b><b class="st W">Weakened</b><b class="h k1 R">&lt;-Lumber 3</b><b class="h k2 R">&lt;-Lumber 3</b></div>
<div class="r"><b class="nm">MATERIALS &amp; CONSTRUCTION - Lumber</b><b class="pd">Period 2 of 10</b><b class="n c3">3</b><s class="N mn" style="width:27px"></s><s class="N an" style="width:11px"></s><b class="v1">-9%</b><b class="v2">-3%</b><b class="v3">0%</b><b class="st W">Weakened</b><b class="h k2 R">&lt;-Lumber 3</b><b class="h k3 R">&lt;-Lumber 3</b></div>
<div class="r"><b class="nm">MATERIALS &amp; CONSTRUCTION - Lumber</b><b class="pd">Period 3 of 10</b><b class="n c3">3</b><s class="N mn" style="width:15px"></s><s class="N an" style="width:7px"></s><s class="Y xp" style="width:3px"></s><b class="v1">-5%</b><b class="v2">-2%</b><b class="v3">1%</b><b class="st W">Weakened</b><b class="h k3 R">&lt;-Lumber 3</b><b class="h k4 R">&lt;-Lumber 3</b><b class="h k5 R">&lt;-Lumber 3</b></div>
<div class="r"><b class="nm">MATERIALS &amp; CONSTRUCTION - Lumber</b><b class="pd">Period 4 of 10</b><b class="n c3">3</b><s class="N mn" style="width:15px"></s><s class="N an" style="width:18px"></s><s class="N xn" style="width:10px"></s><b class="v1">-5%</b><b class="v2">-5%</b><b class="v3">-4%</b><b class="st">Unchanged</b><b class="h k5 P">3 Lumber</b></div>
<div class="r"><b class="nm">MATERIALS &amp; CONSTRUCTION - Lumber</b><b class="pd">Period 5 of 10</b><b class="n c3">3</b><s class="N mn" style="width:15px"></s><s class="Y xp" style="width:13px"></s><b class="v1">-5%</b><b class="v2">0%</b><b class="v3">5%</b><b class="st">Unchanged</b><b class="h k5 P">3 Lumber</b></div>
<div class="r"><b class="nm">MATERIALS &amp; CONSTRUCTION - Lumber</b><b class="pd">Period 6 of 10</b><b class="n c3">3</b><s class="N mn" style="width:3px"></s><s class="Y ap" style="width:18px"></s><s class="Y xp" style="width:33px"></s><b class="v1">-1%</b><b class="v2">5%</b><b class="v3">13%</b><b class="st S">Strengthened</b><b class="h k4 G">3 Lumber-&gt;</b><b class="h k5 G">3 Lumber-&gt;</b></div>
<div class="r"><b class="nm">MATERIALS &amp; CONSTRUCTION - Lumber</b><b class="pd">Period 7 of 10</b><b class="n c3">3</b><s class="N mn" style="width:15px"></s><s class="N an" style="width:14px"></s><s class="N xn" style="width:8px"></s><b class="v1">-5%</b><b class="v2">-4%</b><b class="v3">-3%</b><b class="st W">Weakened</b><b class="h k4 R">&lt;-Lumber 3</b><b class="h k5 R">&lt;-Lumber 3</b><b class="h k6 R">&lt;-Lumber 3</b></div>
<div class="r"><b class="nm">MATERIALS &amp; CONSTRUCTION - Lumber</b><b class="pd">Period 8 of 10</b><b class="n c3">3</b><s class="N mn" style="width:9px"></s><s class="N an" style="width:7px"></s><s class="N xn" style="width:3px"></s><b class="v1">-3%</b><b class="v2">-2%</b><b class="v3">-1%</b><b class="st S">Strengthened</b><b class="h k5 G">3 Lumber-&gt;</b><b class="h k6 G">3 Lumber-&gt;</b></div>
<div class="r"><b class="nm">MATERIALS &amp; CONSTRUCTION - Lumber</b><b class="pd">Period 9 of 10</b><b class="n c3">3</b><s class="Y mp" style="width:9px"></s><s class="Y ap" style="width:14px"></s><s class="Y xp" style="width:13px"></s><b class="v1">3%</b><b class="v2">4%</b><b class="v3">5%</b><b class="st S">Strengthened</b><b class="h k4 G">3 Lumber-&gt;</b><b class="h k5 G">3 Lumber-&gt;</b></div>
<div class="r"><b class="nm">MATERIALS &amp; CONSTRUCTION - Lumber</b><b class="pd">Period 10 of 10</b><b class="n c3">3</b><s class="Y mp" style="width:24px"></s><s class="Y ap" style="width:35px"></s><s class="Y xp" style="width:31px"></s><b class="v1">8%</b><b class="v2">10%</b><b class="v3">12%</b><b class="st S">Strengthened</b><b class="h k2 G">3 Lumber-&gt;</b><b class="h k3 G">3 Lumber-&gt;</b><b class="h k4 G">3 Lumber-&gt;</b></div>
</div>

<div class="g" style="top:2211px">
<div class="r"><b class="nm">MATERIALS &amp; CONSTRUCTION - Manufactured Housing</b><b class="pd">Period 1 of 10 (Current)</b><b class="n c2">2</b><s class="N mn" style="width:21px"></s><s class="N an" style="width:25px"></s><s class="N xn" style="width:15px"></s><b class="v1">-7%</b><b class="v2">-7%</b><b class="v3">-6%</b><b class="st W">Weakened</b><b class="h k3 P">2 Mfd Hsing</b></div>
<div class="r"><b class="nm">MATERIALS &amp; CONSTRUCTION - Manufactured Housing</b><b class="pd">Period 2 of 10</b><b class="n c2">2</b><s class="N mn" style="width:37px"></s><s class="N an" style="width:32px"></s><s class="N xn" style="width:18px"></s><b class="v1">-12%</b><b class="v2">-9%</b><b class="v3">-7%</b><b class="st W">Weakened</b><b class="h k3 R">&lt;-Mfd Hsing 2</b><b class="h k4 R">&lt;-Mfd Hsing 2</b><b class="h k5 R">&lt;-Mfd Hsing 2</b></div>
<div class="r"><b class="nm">MATERIALS &amp; CONSTRUCTION - Manufactured Housing</b><b class="pd">Period 3 of 10</b><b class="n c2">2</b><s class="N mn" style="width:12px"></s><s class="N an" style="width:14px"></s><s class="N xn" style="width:8px"></s><b class="v1">-4%</b><b class="v2">-4%</b><b class="v3">-3%</b><b class="st W">Weakened</b><b class="h k5 R">&lt;-Mfd Hsing 2</b><b class="h k6 R">&lt;-Mfd Hsing 2</b><b class="h k7 R">&lt;-Mfd Hsing 2</b></div>
<div class="r"><b class="nm">MATERIALS &amp; CONSTRUCTION - Manufactured Housing</b><b class="pd">Period 4 of 10</b><b class="n c2">2</b><s class="Y mp" style="width:3px"></s><s class="Y ap" style="width:4px"></s><s class="Y xp" style="width:3px"></s><b class="v1">1%</b><b class="v2">1%</b><b class="v3">1%</b><b class="st">Unchanged</b><b class="h k7 P">2 Mfd Hsing</b></div>
<div class="r"><b class="nm">MATERIALS &amp; CONSTRUCTION - Manufactured Housing</b><b class="pd">Period 5 of 10</b><b class="n c2">2</b><s class="Y mp" style="width:31px"></s><s class="Y ap" style="width:42px"></s><s class="Y xp" style="width:38px"></s><b class="v1">10%</b><b class="v2">12%</b><b class="v3">15%</b><b class="st S">Strengthened</b><b class="h k5 G">2 Mfd Hsing-&gt;</b><b class="h k6 G">2 Mfd Hsing-&gt;</b><b class="h k7 G">2 Mfd Hsing-&gt;</b></div>
<div class="r"><b class="nm">MATERIALS &amp; CONSTRUCTION - Manufactured Housing</b><b class="pd">Period 6 of 10</b><b class="n c2">2</b><s class="Y mp" style="width:21px"></s><s class="Y ap" style="width:28px"></s><s class="Y xp" style="width:23px"></s><b class="v1">7%</b><b class="v2">8%</b><b class="v3">9%</b><b class="st S">Strengthened</b><b class="h k3 G">2 Mfd Hsing-&gt;</b><b class="h k4 G">2 Mfd Hsing-&gt;</b><b class="h k5 G">2 Mfd Hsing-&gt;</b></div>
<div class="r"><b class="nm">MATERIALS &amp; CONSTRUCTION - Manufactured Housing</b><b class="pd">Period 7 of 10</b><b class="n c2">2</b><s class="N mn" style="width:79px"></s><s class="N an" style="width:70px"></s><s class="N xn" style="width:36px"></s><b class="v1">-26%</b><b class="v2">-20%</b><b class="v3">-14%</b><b class="st W">Weakened</b><b class="h k3 R">&lt;-Mfd Hsing 2</b><b class="h k4 R">&lt;-Mfd Hsing 2</b><b class="h k5 R">&lt;-Mfd Hsing 2</b><b class="h k6 R">&lt;-Mfd Hsing 2</b><b class="h k7 R">&lt;-Mfd Hsing 2</b><b class="h k8 R">&lt;-Mfd Hsing 2</b></div>
<div class="r"><b class="nm">MATERIALS &amp; CONSTRUCTION - Manufactured Housing</b><b class="pd">Period 8 of 10</b><b class="n c2">2</b><s class="N mn" style="width:15px"></s><s class="N an" style="width:18px"></s><s class="N xn" style="width:10px"></s><b class="v1">-5%</b><b class="v2">-5%</b><b class="v3">-4%</b><b class="st">Unchanged</b><b class="h k8 P">2 Mfd Hsing</b></div>
<div class="r"><b class="nm">MATERIALS &amp; CONSTRUCTION - Manufactured Housing</b><b class="pd">Period 9 of 10</b><b class="n c2">2</b><s class="Y mp" style="width:3px"></s><s class="Y ap" style="width:11px"></s><s class="Y xp" style="width:13px"></s><b class="v1">1%</b><b class="v2">3%</b><b class="v3">5%</b><b class="st S">Strengthened</b><b class="h k6 G">2 Mfd Hsing-&gt;</b><b class="h k7 G">2 Mfd Hsing-&gt;</b><b class="h k8 G">2 Mfd Hsing-&gt;</b></div>
<div class="r"><b class="nm">MATERIALS &amp; CONSTRUCTION - Manufactured Housing</b><b class="pd">Period 10 of 10</b><b class="n c2">2</b><s class="Y mp" style="width:37px"></s><s class="Y ap" style="width:46px"></s><s class="Y xp" style="width:33px"></s><b class="v1">12%</b><b class="v2">13%</b><b class="v3">13%</b><b class="st">Unchanged</b><b class="h k6 P">2 Mfd Hsing</b></div>
</div>

<div class="g" style="top:2503px">
<div class="r"><b class="nm">MATERIALS &amp; CONSTRUCTION - Residential Construction</b><b class="pd">Period 1 of 10 (Current)</b><b class="n c13">13</b><s class="N mn" style="width:24px"></s><s class="N an" style="width:18px"></s><b class="v1">-8%</b><b class="v2">-5%</b><b class="v3">0%</b><b class="st W">Weakened</b><b class="h k3 R">&lt;-Resi Const 13</b><b class="h k4 R">&lt;-Resi Const 13</b><b class="h k5 R">&lt;-Resi Const 13</b></div>
<div class="r"><b class="nm">MATERIALS &amp; CONSTRUCTION - Residential Construction</b><b class="pd">Period 2 of 10</b><b class="n c13">13</b><s class="N mn" style="width:40px"></s><s class="N an" style="width:28px"></s><b class="v1">-13%</b><b class="v2">-8%</b><b class="v3">0%</b><b class="st W">Weakened</b><b class="h k5 R">&lt;-Resi Const 13</b><b class="h k6 R">&lt;-Resi Const 13</b></div>
<div class="r"><b class="nm">MATERIALS &amp; CONSTRUCTION - Residential Construction</b><b class="pd">Period 3 of 10</b><b class="n c13">13</b><s class="N mn" style="width:18px"></s><s class="N an" style="width:11px"></s><b class="v1">-6%</b><b class="v2">-3%</b><b class="v3">0%</b><b class="st W">Weakened</b><b class="h k6 P">13 Resi Const</b></div>
<div class="r"><b class="nm">MATERIALS &amp; CONSTRUCTION - Residential Construction</b><b class="pd">Period 4 of 10</b><b class="n c13">13</b><s class="N mn" style="width:15px"></s><s class="N an" style="width:7px"></s><b class="v1">-5%</b><b class="v2">-2%</b><b class="v3">0%</b><b class="st">Unchanged</b><b class="h k6 P">13 Resi Const</b></div>
<div class="r"><b class="nm">MATERIALS &amp; CONSTRUCTION - Residential Construction</b><b class="pd">Period 5 of 10</b><b class="n c13">13</b><s class="Y mp" style="width:9px"></s><s class="Y ap" style="width:32px"></s><s class="Y xp" style="width:79px"></s><b class="v1">3%</b><b class="v2">9%</b><b class="v3">31%</b><b class="st S">Strengthened</b><b class="h k6 P">13 Resi Const</b></div>
<div class="r"><b class="nm">MATERIALS &amp; CONSTRUCTION - Residential Construction</b><b class="pd">Period 6 of 10</b><b class="n c13">13</b><s class="Y mp" style="width:3px"></s><s class="Y ap" style="width:25px"></s><s class="Y xp" style="width:41px"></s><b class="v1">1%</b><b class="v2">7%</b><b class="v3">16%</b><b class="st S">Strengthened</b><b class="h k5 G">13 Resi Const-&gt;</b><b class="h k6 G">13 Resi Const-&gt;</b></div>
<div class="r"><b class="nm">MATERIALS &amp; CONSTRUCTION - Residential Construction</b><b class="pd">Period 7 of 10</b><b class="n c13">13</b><s class="N mn" style="width:27px"></s><s class="N an" style="width:7px"></s><b class="v1">-9%</b><b class="v2">-2%</b><b class="v3">0%</b><b class="st W">Weakened</b><b class="h k5 R">&lt;-Resi Const 13</b><b class="h k6 R">&lt;-Resi Const 13</b></div>
<div class="r"><b class="nm">MATERIALS &amp; CONSTRUCTION - Residential Construction</b><b class="pd">Period 8 of 10</b><b class="n c13">13</b><s class="N mn" style="width:18px"></s><s class="N an" style="width:11px"></s><s class="N xn" style="width:3px"></s><b class="v1">-6%</b><b class="v2">-3%</b><b class="v3">-1%</b><b class="st W">Weakened</b><b class="h k6 P">13 Resi Const</b></div>
<div class="r"><b class="nm">MATERIALS &amp; CONSTRUCTION - Residential Construction</b><b class="pd">Period 9 of 10</b><b class="n c13">13</b><s class="N mn" style="width:9px"></s><s class="Y xp" style="width:13px"></s><b class="v1">-3%</b><b class="v2">0%</b><b class="v3">5%</b><b class="st">Unchanged</b><b class="h k6 P">13 Resi Const</b></div>
<div class="r"><b class="nm">MATERIALS &amp; CONSTRUCTION - Residential Construction</b><b class="pd">Period 10 of 10</b><b class="n c13">13</b><s class="Y mp" style="width:21px"></s><s class="Y ap" style="width:42px"></s><s class="Y xp" style="width:59px"></s><b class="v1">7%</b><b class="v2">12%</b><b class="v3">23%</b><b class="st S">Strengthened</b><b class="h k2 G">13 Resi Const-&gt;</b><b class="h k3 G">13 Resi Const-&gt;</b><b class="h k4 G">13 Resi Const-&gt;</b><b class="h k5 G">13 Resi Const-&gt;</b><b class="h k6 G">13 Resi Const-&gt;</b></div>
</div>

<div class="g" style="top:2795px">
<div class="r"><b class="nm">MATERIALS &amp; CONSTRUCTION - Waste Management</b><b class="pd">Period 1 of 10 (Current)</b><b class="n c7">7</b><s class="N mn" style="width:24px"></s><s class="N an" style="width:11px"></s><s class="Y xp" style="width:5px"></s><b class="v1">-8%</b><b class="v2">-3%</b><b class="v3">2%</b><b class="st W">Weakened</b><b class="h k4 R">&lt;-Waste Mgt 7</b><b class="h k5 R">&lt;-Waste Mgt 7</b></div>
<div class="r"><b class="nm">MATERIALS &amp; CONSTRUCTION - Waste Management</b><b class="pd">Period 2 of 10</b><b class="n c7">7</b><s class="N mn" style="width:24px"></s><s class="N an" style="width:7px"></s><s class="Y xp" style="width:5px"></s><b class="v1">-8%</b><b class="v2">-2%</b><b class="v3">2%</b><b class="st S">Strengthened</b><b class="h k5 P">7 Waste Mgt</b></div>
<div class="r"><b class="nm">MATERIALS &amp; CONSTRUCTION - Waste Management</b><b class="pd">Period 3 of 10</b><b class="n c7">7</b><s class="N mn" style="width:6px"></s><s class="Y ap" style="width:21px"></s><s class="Y xp" style="width:69px"></s><b class="v1">-2%</b><b class="v2">6%</b><b class="v3">27%</b><b class="st S">Strengthened</b><b class="h k4 G">7 Waste Mgt-&gt;</b><b class="h k5 G">7 Waste Mgt-&gt;</b></div>
<div class="r"><b class="nm">MATERIALS &amp; CONSTRUCTION - Waste Management</b><b class="pd">Period 4 of 10</b><b class="n c7">7</b><s class="N mn" style="width:31px"></s><s class="Y xp" style="width:33px"></s><b class="v1">-10%</b><b class="v2">0%</b><b class="v3">13%</b><b class="st W">Weakened</b><b class="h k4 R">&lt;-Waste Mgt 7</b><b class="h k5 R">&lt;-Waste Mgt 7</b></div>
<div class="r"><b class="nm">MATERIALS &amp; CONSTRUCTION - Waste Management</b><b class="pd">Period 5 of 10</b><b class="n c7">7</b><s class="N mn" style="width:52px"></s><s class="N an" style="width:11px"></s><s class="Y xp" style="width:8px"></s><b class="v1">-17%</b><b class="v2">-3%</b><b class="v3">3%</b><b class="st">Unchanged</b><b class="h k5 P">7 Waste Mgt</b></div>
<div class="r"><b class="nm">MATERIALS &amp; CONSTRUCTION - Waste Management</b><b class="pd">Period 6 of 10</b><b class="n c7">7</b><s class="Y ap" style="width:11px"></s><s class="Y xp" style="width:28px"></s><b class="v1">0%</b><b class="v2">3%</b><b class="v3">11%</b><b class="st S">Strengthened</b><b class="h k4 G">7 Waste Mgt-&gt;</b><b class="h k5 G">7 Waste Mgt-&gt;</b></div>
<div class="r"><b class="nm">MATERIALS &amp; CONSTRUCTION - Waste Management</b><b class="pd">Period 7 of 10</b><b class="n c7">7</b><s class="N mn" style="width:15px"></s><s class="N an" style="width:4px"></s><s class="Y xp" style="width:10px"></s><b class="v1">-5%</b><b class="v2">-1%</b><b class="v3">4%</b><b class="st W">Weakened</b><b class="h k4 R">&lt;-Waste Mgt 7</b><b class="h k5 R">&lt;-Waste Mgt 7</b></div>
<div class="r"><b class="nm">MATERIALS &amp; CONSTRUCTION - Waste Management</b><b class="pd">Period 8 of 10</b><b class="n c7">7</b><s class="N mn" style="width:6px"></s><s class="Y ap" style="width:7px"></s><s class="Y xp" style="width:13px"></s><b class="v1">-2%</b><b class="v2">2%</b><b class="v3">5%</b><b class="st S">Strengthened</b><b class="h k4 G">7 Waste Mgt-&gt;</b><b class="h k5 G">7 Waste Mgt-&gt;</b></div>
<div class="r"><b class="nm">MATERIALS &amp; CONSTRUCTION - Waste Management</b><b class="pd">Period 9 of 10</b><b class="n c7">7</b><s class="N mn" style="width:52px"></s><s class="Y xp" style="width:15px"></s><b class="v1">-17%</b><b class="v2">0%</b><b class="v3">6%</b><b class="st W">Weakened</b><b class="h k4 P">7 Waste Mgt</b></div>
<div class="r"><b class="nm">MATERIALS &amp; CONSTRUCTION - Waste Management</b><b class="pd">Period 10 of 10</b><b class="n c7">7</b><s class="N mn" style="width:12px"></s><s class="Y ap" style="width:14px"></s><s class="Y xp" style="width:41px"></s><b class="v1">-4%</b><b class="v2">4%</b><b class="v3">16%</b><b class="st S">Strengthened</b><b class="h k4 P">7 Waste Mgt</b></div>
</div>

<div class="dl" style="left:1226px;top:459px;height:2628px"></div>
<div class="dl" style="left:1336px;top:459px;height:2628px"></div>
<div class="dl" style="left:1418px;top:459px;height:2628px"></div>
<div class="bl" style="left:1263px;top:459px;width:3px;height:2628px"></div>
<div class="bl" style="left:1380px;top:459px;width:3px;height:2628px"></div>
<div class="bl" style="left:1497px;top:459px;width:3px;height:2628px"></div>
<div class="bl" style="left:76px;top:749.5px;width:3145px;height:3px"></div>
<div class="bl" style="left:76px;top:1041.5px;width:3145px;height:3px"></div>
<div class="bl" style="left:76px;top:1333.5px;width:3145px;height:3px"></div>
<div class="bl" style="left:76px;top:1625.5px;width:3145px;height:3px"></div>
<div class="bl" style="left:76px;top:1917.5px;width:3145px;height:3px"></div>
<div class="bl" style="left:76px;top:2209.5px;width:3145px;height:3px"></div>
<div class="bl" style="left:76px;top:2501.5px;width:3145px;height:3px"></div>
<div class="bl" style="left:76px;top:2793.5px;width:3145px;height:3px"></div>
</body></html>
